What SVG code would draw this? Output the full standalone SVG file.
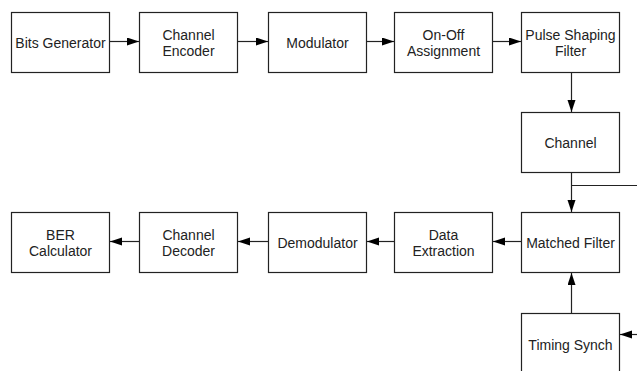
<svg xmlns="http://www.w3.org/2000/svg" width="637" height="371" viewBox="0 0 637 371">
<defs>
<style>
.box{fill:#fff;stroke:#222;stroke-width:1.2}
.lbl{font-family:"Liberation Sans",Arial,sans-serif;font-size:14px;fill:#222;text-anchor:middle}
.ln{fill:none;stroke:#222;stroke-width:1.2}
.ar{marker-end:url(#ah)}
</style>
<marker id="ah" markerUnits="userSpaceOnUse" markerWidth="13" markerHeight="9" refX="12" refY="4" orient="auto">
<path d="M0,0 L12,4 L0,8 Z" fill="#000"/>
</marker>
</defs>
<rect width="637" height="371" fill="#fff"/>
<g id="bits"><rect class="box" x="11.5" y="12.5" width="98" height="60"/><text class="lbl" x="60.5" y="47.5">Bits Generator</text></g>
<g id="encoder"><rect class="box" x="139.5" y="12.5" width="98" height="60"/><text class="lbl" x="188.5" y="39.5">Channel</text><text class="lbl" x="188.5" y="55.5">Encoder</text></g>
<g id="modulator"><rect class="box" x="268.5" y="12.5" width="98" height="60"/><text class="lbl" x="317.5" y="47.5">Modulator</text></g>
<g id="onoff"><rect class="box" x="394.5" y="12.5" width="98" height="60"/><text class="lbl" x="443.5" y="39.5">On-Off</text><text class="lbl" x="443.5" y="55.5">Assignment</text></g>
<g id="pulse"><rect class="box" x="521.5" y="12.5" width="98" height="60"/><text class="lbl" x="570.5" y="39.5">Pulse Shaping</text><text class="lbl" x="570.5" y="55.5">Filter</text></g>
<g id="channel"><rect class="box" x="521.5" y="112.5" width="98" height="60"/><text class="lbl" x="570.5" y="147.5">Channel</text></g>
<g id="matched"><rect class="box" x="521.5" y="212.5" width="98" height="60"/><text class="lbl" x="570.5" y="247.5">Matched Filter</text></g>
<g id="timing"><rect class="box" x="521.5" y="313.5" width="98" height="70"/><text class="lbl" x="570.5" y="349.5">Timing Synch</text></g>
<g id="extraction"><rect class="box" x="394.5" y="212.5" width="98" height="60"/><text class="lbl" x="443.5" y="239.5">Data</text><text class="lbl" x="443.5" y="255.5">Extraction</text></g>
<g id="demodulator"><rect class="box" x="268.5" y="212.5" width="98" height="60"/><text class="lbl" x="317.5" y="247.5">Demodulator</text></g>
<g id="decoder"><rect class="box" x="139.5" y="212.5" width="98" height="60"/><text class="lbl" x="188.5" y="239.5">Channel</text><text class="lbl" x="188.5" y="255.5">Decoder</text></g>
<g id="ber"><rect class="box" x="11.5" y="212.5" width="98" height="60"/><text class="lbl" x="60.5" y="239.5">BER</text><text class="lbl" x="60.5" y="255.5">Calculator</text></g>
<g id="connectors">
<line class="ln ar" x1="109.5" y1="41.5" x2="139" y2="41.5"/>
<line class="ln ar" x1="237.5" y1="41.5" x2="268" y2="41.5"/>
<line class="ln ar" x1="366.5" y1="41.5" x2="394" y2="41.5"/>
<line class="ln ar" x1="492.5" y1="41.5" x2="521" y2="41.5"/>
<line class="ln ar" x1="571.5" y1="72.5" x2="571.5" y2="112"/>
<line class="ln ar" x1="571.5" y1="172.5" x2="571.5" y2="212"/>
<line class="ln" x1="571.5" y1="185.5" x2="637" y2="185.5"/>
<line class="ln ar" x1="571.5" y1="313.5" x2="571.5" y2="273"/>
<line class="ln ar" x1="637" y1="334.5" x2="620" y2="334.5"/>
<line class="ln ar" x1="521.5" y1="241.5" x2="493" y2="241.5"/>
<line class="ln ar" x1="394.5" y1="241.5" x2="367" y2="241.5"/>
<line class="ln ar" x1="268.5" y1="241.5" x2="238" y2="241.5"/>
<line class="ln ar" x1="139.5" y1="241.5" x2="110" y2="241.5"/>
</g>
</svg>
